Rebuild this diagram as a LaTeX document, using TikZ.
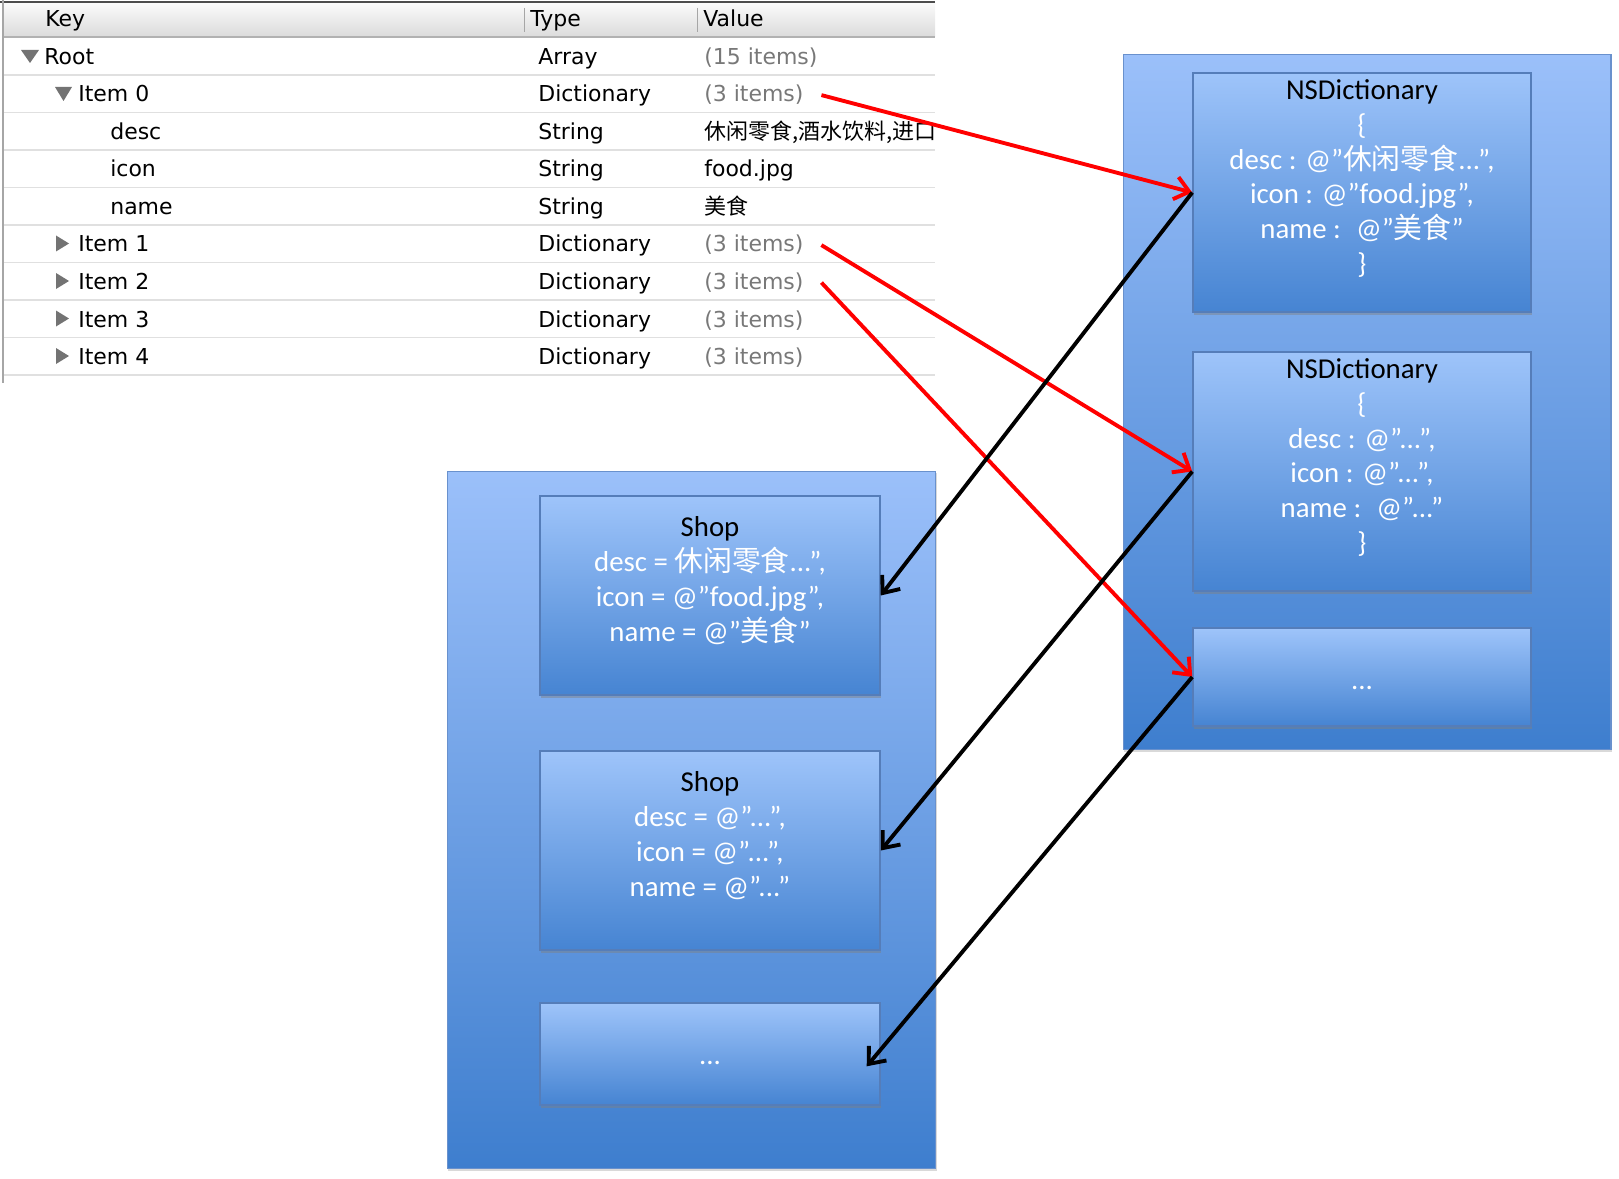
\documentclass[tikz,border=0pt]{standalone}
\usepackage{fontspec}
\setmainfont{Carlito}
\newfontfamily\tablefont{DejaVu Sans}
\newfontfamily\cjk{Noto Sans CJK SC}
\usepackage{tikz}
\usetikzlibrary{positioning,arrows.meta,shadows}
\definecolor{boxtop}{RGB}{155,192,250}
\definecolor{boxbottom}{RGB}{62,126,206}
\definecolor{objtop}{RGB}{158,196,250}
\definecolor{objbottom}{RGB}{70,132,210}
\definecolor{boxedge}{RGB}{105,145,205}
\definecolor{objedge}{RGB}{85,125,185}
\definecolor{itemgray}{RGB}{120,120,120}

\begin{document}
\begin{tikzpicture}[
x=0.02cm, y=-0.02cm,
cell/.style={anchor=base west, inner sep=0pt, font=\tablefont\fontsize{12.5}{14}\selectfont},
rowline/.style={draw=black!12, line width=1.1pt},
tri/.style={fill=black!55},
outerbox/.style={
	draw=boxedge, line width=0.6pt,
	top color=boxtop, bottom color=boxbottom,
	drop shadow={shadow xshift=0.6pt, shadow yshift=-1.2pt, opacity=0.3}
},
objbox/.style={
	draw=objedge, line width=0.9pt,
	top color=objtop, bottom color=objbottom,
	drop shadow={shadow xshift=0.8pt, shadow yshift=-1.8pt, opacity=0.45}
},
boxtext/.style={align=center, inner sep=0pt, text=white, font=\fontsize{16.4}{19.8}\selectfont},
redarrow/.style={draw=red, line width=2.2pt, -{Straight Barb[length=8pt, width=13pt]}},
blackarrow/.style={draw=black, line width=2.2pt, -{Straight Barb[length=8pt, width=13pt]}}
]
\useasboundingbox (0,0) rectangle (1619,1179);

% plist table
\begin{scope}
\clip (0,0) rectangle (935,383);
\fill[top color=black!2, bottom color=black!14] (3,3) rectangle (935,37);
\draw[black!70, line width=1.5pt] (0,2) -- (935,2);
\draw[black!30, line width=1pt] (3,37) -- (935,37);
\draw[black!35] (524,8) -- (524,32);
\draw[black!35] (697,8) -- (697,32);
\draw[black!35, line width=1pt] (3,0) -- (3,383);
\foreach \r in {1,...,9}
	\draw[rowline] (4,{37.5+37.5*\r}) -- (935,{37.5+37.5*\r});
\node[cell] (hkey) at (45,27) {Key};
\node[cell] (htype) at (530,27) {Type};
\node[cell] (hval) at (703,27) {Value};
\foreach \kx/\key/\type/\val/\vcol [count=\r] in {
	44/Root/Array/{(15 items)}/itemgray,
	78/Item 0/Dictionary/{(3 items)}/itemgray,
	110/desc/String/{{\cjk 休闲零食,酒水饮料,进口}}/black,
	110/icon/String/food.jpg/black,
	110/name/String/{{\cjk 美食}}/black,
	78/Item 1/Dictionary/{(3 items)}/itemgray,
	78/Item 2/Dictionary/{(3 items)}/itemgray,
	78/Item 3/Dictionary/{(3 items)}/itemgray,
	78/Item 4/Dictionary/{(3 items)}/itemgray}
{
	\node[cell] (key\r) at (\kx,{64.5+37.5*(\r-1)}) {\key};
	\node[cell] (type\r) at (538,{64.5+37.5*(\r-1)}) {\type};
	\node[cell, text=\vcol] (val\r) at (704,{64.5+37.5*(\r-1)}) {\val};
}
\fill[tri] (21,50) -- (39,50) -- (30,63) -- cycle;
\fill[tri] (55,87) -- (72,87) -- (63.5,101) -- cycle;
\foreach \c in {243.5,281,318.5,356}
	\fill[tri] (56,{\c-8}) -- (56,{\c+8}) -- (69,\c) -- cycle;
\end{scope}

% NSDictionary array
\node[outerbox, minimum width=9.76cm, minimum height=13.92cm] (dicts) at (1367,402) {};
\node[objbox, minimum width=6.76cm, minimum height=4.78cm] (d1) at (1362,192.5) {};
\node[objbox, minimum width=6.76cm, minimum height=4.78cm] (d2) at (1362,471.5) {};
\node[objbox, minimum width=6.76cm, minimum height=1.96cm] (d3) at (1362,677) {};
\node[boxtext, below=4pt of d1.north] (d1t) {\textcolor{black}{NSDictionary}\\ \{\\
	desc : @”{\cjk 休闲零食}...”,\\ icon : @”food.jpg”,\\ name : \ @”{\cjk 美食}”\\ \}};
\node[boxtext, below=4pt of d2.north] (d2t) {\textcolor{black}{NSDictionary}\\ \{\\
	desc : @”...”,\\ icon : @”...”,\\ name : \ @”...”\\ \}};
\node[boxtext] (d3t) at ([yshift=-6pt]d3.center) {...};

% Shop array
\node[outerbox, minimum width=9.78cm, minimum height=13.96cm] (shops) at (691.5,820) {};
\node[objbox, minimum width=6.8cm, minimum height=3.98cm] (s1) at (710,595.5) {};
\node[objbox, minimum width=6.8cm, minimum height=3.98cm] (s2) at (710,850.5) {};
\node[objbox, minimum width=6.8cm, minimum height=2.04cm] (s3) at (710,1054) {};
\node[boxtext, below=12pt of s1.north] (s1t) {\textcolor{black}{Shop}\\
	desc = {\cjk 休闲零食}...”,\\ icon = @”food.jpg”,\\ name = @”{\cjk 美食}”};
\node[boxtext, below=12pt of s2.north] (s2t) {\textcolor{black}{Shop}\\
	desc = @”...”,\\ icon = @”...”,\\ name = @”...”};
\node[boxtext] (s3t) at ([yshift=-5pt]s3.center) {...};

% arrows
\draw[redarrow] ([xshift=10pt]val2.east) -- (d1.west);
\draw[redarrow] ([xshift=10pt]val6.east) -- (d2.west);
\draw[redarrow] ([xshift=10pt]val7.east) -- (d3.west);
\draw[blackarrow] (d1.west) -- (s1.east);
\draw[blackarrow] (d2.west) -- (s2.east);
\draw[blackarrow] (d3.west) -- ([xshift=-8pt,yshift=-7pt]s3.east);
\end{tikzpicture}
\end{document}
